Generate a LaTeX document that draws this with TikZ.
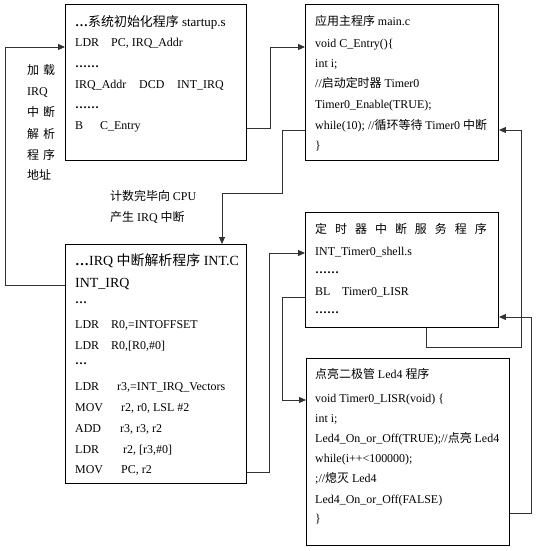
\documentclass[tikz,border=0pt]{standalone}
\usepackage{fontspec}
\setmainfont{Liberation Serif}
\newfontfamily\cjk{Noto Sans CJK SC}
\usetikzlibrary{arrows.meta}
\newcommand\zh[1]{{\cjk #1}}
\newcommand\opc[2]{\makebox[#1][l]{#2}}
\newcommand\gap{\hspace{8bp}}
\newcommand\dotrow{\textbf{……}}
\newcommand\titlefont{\fontsize{14}{16}\selectfont}
\tikzset{
  prog/.style={draw, line width=0.9bp, anchor=north west, inner sep=0},
  code/.style={anchor=base west, inner sep=0, font=\fontsize{12}{14}\selectfont},
  link/.style={draw=black!80, line width=0.9bp, ->}
}

\begin{document}
\begin{tikzpicture}[x=1bp, y=-1bp, >={Triangle[length=7bp,width=6bp]}]
\useasboundingbox (0,0) rectangle (539,551);

% program boxes
\node[prog, minimum width=181bp, minimum height=156bp] (startup) at (65,4) {};
\node[prog, minimum width=193bp, minimum height=156bp] (main) at (305,4) {};
\node[prog, minimum width=181bp, minimum height=239bp] (irq) at (65,244) {};
\node[prog, minimum width=193bp, minimum height=115bp] (timer) at (305,212) {};
\node[prog, minimum width=203bp, minimum height=187bp] (led) at (306,358) {};

% startup.s
\foreach \y/\t [count=\i] in {
  27/{\fontsize{13}{15}\selectfont\textbf{…}\zh{系统初始化程序} startup.s},
  47/{\opc{36bp}{LDR}PC, IRQ\_Addr},
  68/{\dotrow},
  89/{\opc{64bp}{IRQ\_Addr}\opc{38bp}{DCD}INT\_IRQ},
  109/{\dotrow},
  130/{\opc{25bp}{B}C\_Entry}}
  \node[code] (s\i) at (75,\y) {\t};

% main.c
\foreach \y/\t [count=\i] in {
  26/{\zh{应用主程序} main.c},
  48/{void C\_Entry()\{},
  68/{int i;},
  88/{//\zh{启动定时器} Timer0},
  109/{Timer0\_Enable(TRUE);},
  130/{while(10); //\zh{循环等待} Timer0 \zh{中断}},
  150/{\}}}
  \node[code] (m\i) at (315,\y) {\t};

% INT.C
\foreach \y/\t [count=\i] in {
  265/{\titlefont\textbf{…}IRQ \zh{中断解析程序} INT.C},
  287/{\titlefont INT\_IRQ},
  303/{\textbf{…}},
  328/{\opc{36bp}{LDR}R0,=INTOFFSET},
  349/{\opc{36bp}{LDR}R0,[R0,\#0]},
  364/{\textbf{…}},
  390/{\opc{42bp}{LDR}r3,=INT\_IRQ\_Vectors},
  411/{\opc{46bp}{MOV}r2, r0, LSL \#2},
  432/{\opc{45bp}{ADD}r3, r3, r2},
  453/{\opc{48bp}{LDR}r2, [r3,\#0]},
  473/{\opc{46bp}{MOV}PC, r2}}
  \node[code] (c\i) at (75,\y) {\t};

% INT_Timer0_shell.s
\foreach \y/\t [count=\i] in {
  233/{\zh{定\gap 时\gap 器\gap 中\gap 断\gap 服\gap 务\gap 程\gap 序}},
  255/{INT\_Timer0\_shell.s},
  273/{\dotrow},
  295/{\opc{27bp}{BL}Timer0\_LISR},
  313/{\dotrow}}
  \node[code] (t\i) at (315,\y) {\t};

% Timer0_LISR
\foreach \y/\t [count=\i] in {
  378/{\zh{点亮二极管} Led4 \zh{程序}},
  402/{void Timer0\_LISR(void) \{},
  422/{int i;},
  442/{Led4\_On\_or\_Off(TRUE);//\zh{点亮} Led4},
  462/{while(i++<100000);},
  482/{;//\zh{熄灭} Led4},
  503/{Led4\_On\_or\_Off(FALSE)},
  522/{\}}}
  \node[code] (l\i) at (315,\y) {\t};

% labels on the links
\foreach \y/\t [count=\i] in {
  75/{\zh{加\hspace{4bp}载}}, 96/{IRQ}, 117/{\zh{中\hspace{4bp}断}},
  139/{\zh{解\hspace{4bp}析}}, 160/{\zh{程\hspace{4bp}序}}, 180/{\zh{地址}}}
  \node[code] (v\i) at (27,\y) {\t};
\node[code] (cnt1) at (110,201) {\zh{计数完毕向} CPU};
\node[code] (cnt2) at (110,221) {\zh{产生} IRQ \zh{中断}};

% links
\draw[link] (startup.east |- 0,128) -| (270,47) -- (main.west |- 0,47);
\draw[link] (main.west |- 0,130) -| (282,193) -| (irq.north -| 222,0);
\draw[link] (irq.west |- 0,285) -| (5,47) -- (startup.west |- 0,47);
\draw[link] (irq.east |- 0,472) -| (269,253) -- (timer.west |- 0,253);
\draw[link] (timer.west |- 0,297) -| (282,400) -- (led.west |- 0,400);
\draw[link] (led.east |- 0,513) -| (531,317) -- (timer.east |- 0,317);
\draw[link] (timer.south -| 426,0) |- (521,347) |- (main.east |- 0,130);
\end{tikzpicture}
\end{document}
